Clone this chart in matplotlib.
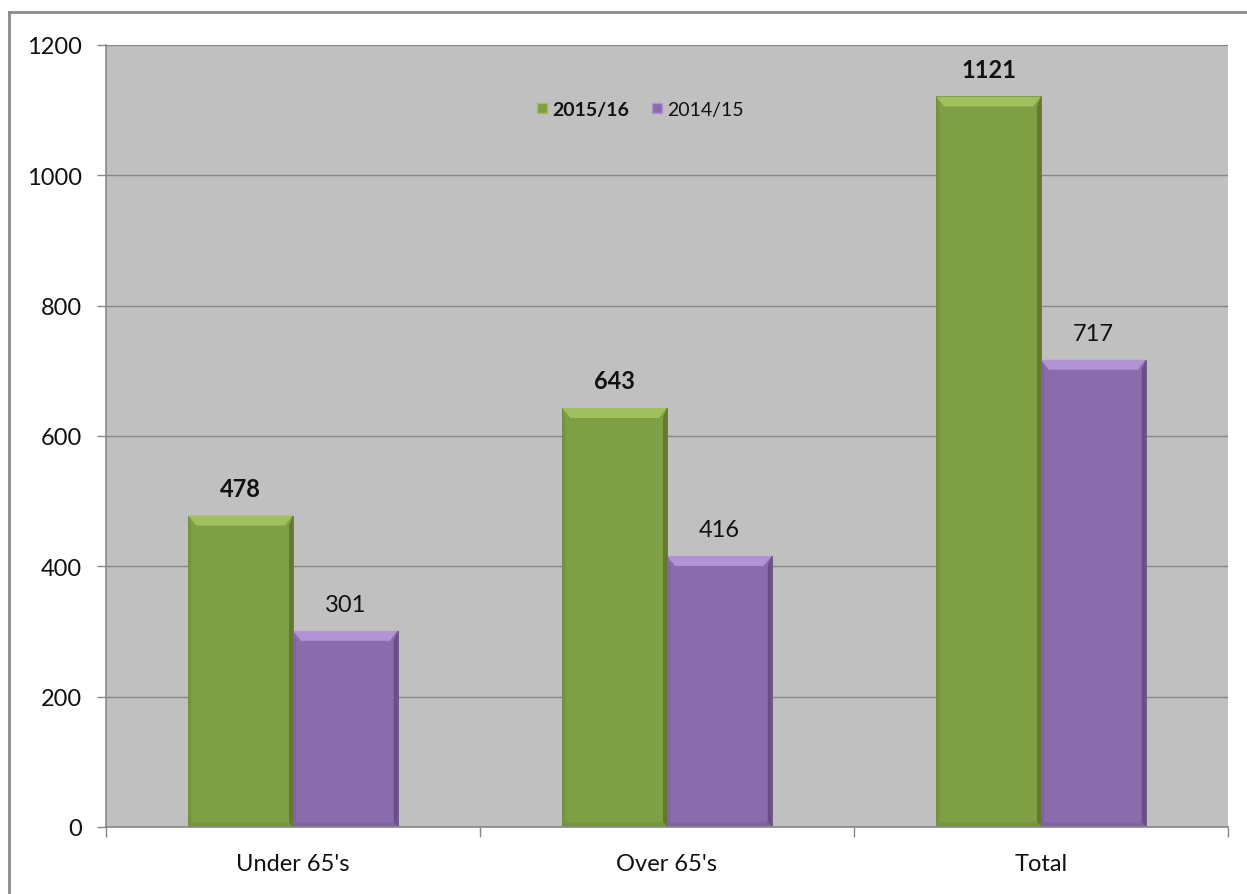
import matplotlib
matplotlib.use("Agg")
import matplotlib.pyplot as plt
from matplotlib.patches import Polygon
from matplotlib.lines import Line2D

categories = ["Under 65's", "Over 65's", "Total"]
series_names = ["2015/16", "2014/15"]
values_2015_16 = [478, 643, 1121]
values_2014_15 = [301, 416, 717]
y_ticks = [0, 200, 400, 600, 800, 1000, 1200]

plt.rcParams["font.family"] = ["Lato", "DejaVu Sans"]

W, H, DPI = 1247, 895, 100
fig = plt.figure(figsize=(W / DPI, H / DPI), dpi=DPI, facecolor="white")
ax_left, ax_right, ax_bottom, ax_top = 106, 1228, 67, 849
ax = fig.add_axes([ax_left / W, ax_bottom / H, (ax_right - ax_left) / W, (ax_top - ax_bottom) / H])
ax.set_facecolor("#c0c0c0")

ax.set_xlim(-0.5, len(categories) - 0.5)
ax.set_ylim(0, 1200)

# conversion of a few pixels of bevel depth into data units
px_x = (len(categories)) / (ax_right - ax_left)
px_y = 1200 / (ax_top - ax_bottom)

bar_w = 0.28
styles = [
    dict(vals=values_2015_16, off=-bar_w / 2, base="#7f9f44", light="#a0c05e",
         dark="#62792f", side="#769540", weight="bold"),
    dict(vals=values_2014_15, off=bar_w / 2, base="#8a6cac", light="#b293d4",
         dark="#674f85", side="#8165a2", weight="normal"),
]

ax.yaxis.grid(True, color="#878787", linewidth=1.0)
ax.set_axisbelow(True)

for st in styles:
    xs = [i + st["off"] for i in range(len(categories))]
    ax.bar(xs, st["vals"], width=bar_w, color=st["base"], edgecolor=st["dark"],
           linewidth=0.6, zorder=2)
    for x, v in zip(xs, st["vals"]):
        x0, x1 = x - bar_w / 2, x + bar_w / 2
        dx, dyt, dyb = 8 * px_x, 10 * px_y, 5 * px_y
        # top slanted face
        ax.add_patch(Polygon([(x0, v), (x1, v), (x1 - dx, v - dyt), (x0 + dx, v - dyt)],
                             closed=True, facecolor=st["light"], edgecolor="none", zorder=3))
        # right side face
        ax.add_patch(Polygon([(x1, v), (x1, 0), (x1 - dx * 0.5, dyb), (x1 - dx * 0.5, v - dyt)],
                             closed=True, facecolor=st["dark"], edgecolor="none", zorder=3))
        # left side face
        ax.add_patch(Polygon([(x0, v), (x0, 0), (x0 + dx * 0.4, dyb), (x0 + dx * 0.4, v - dyt)],
                             closed=True, facecolor=st["side"], edgecolor="none", zorder=3))
        # bottom face
        ax.add_patch(Polygon([(x0, 0), (x1, 0), (x1 - dx * 0.5, dyb), (x0 + dx * 0.4, dyb)],
                             closed=True, facecolor=st["side"], edgecolor="none", zorder=3))
        ax.annotate(f"{v}", xy=(x, v), xytext=(0, 11.5), textcoords="offset points",
                    ha="center", va="bottom", fontsize=17, fontweight=st["weight"],
                    color="#111111", zorder=5)

# legend
handles = [
    Line2D([], [], marker="s", linestyle="none", markersize=7.5, markerfacecolor=styles[0]["base"],
           markeredgecolor=styles[0]["light"]),
    Line2D([], [], marker="s", linestyle="none", markersize=7.5, markerfacecolor=styles[1]["base"],
           markeredgecolor=styles[1]["light"]),
]
leg = ax.legend(handles, series_names, loc="center", bbox_to_anchor=(0.476, 0.918), ncol=2,
                frameon=False, fontsize=14, handlelength=0.6, handletextpad=0.25,
                columnspacing=1.1)
leg.get_texts()[0].set_fontweight("bold")
for t in leg.get_texts():
    t.set_color("#111111")

# axes
ax.set_yticks(y_ticks)
ax.set_yticklabels([str(t) for t in y_ticks], fontsize=17, color="#111111")
ax.set_xticks([i - 0.5 for i in range(len(categories) + 1)])
ax.set_xticklabels([])
ax.set_xticks(range(len(categories)), minor=True)
ax.set_xticklabels(categories, minor=True, fontsize=17, color="#111111")
ax.tick_params(axis="y", which="major", length=6.5, width=1, color="#878787", pad=11)
ax.tick_params(axis="x", which="major", length=7, width=1, color="#878787")
ax.tick_params(axis="x", which="minor", length=0, pad=19)

for s in ["top", "right"]:
    ax.spines[s].set_visible(False)
for s in ["left", "bottom"]:
    ax.spines[s].set_color("#878787")
    ax.spines[s].set_linewidth(1.2)
    ax.spines[s].set_zorder(4)

# outer chart frame
frame_x, frame_y = 9 / W, 1 - 13 / H
fig.add_artist(Line2D([frame_x, frame_x], [0, frame_y], transform=fig.transFigure,
                      color="#8c8c8c", linewidth=2))
fig.add_artist(Line2D([frame_x, 1], [frame_y, frame_y], transform=fig.transFigure,
                      color="#8c8c8c", linewidth=2))

fig.savefig("out.png", dpi=DPI, facecolor="white")
